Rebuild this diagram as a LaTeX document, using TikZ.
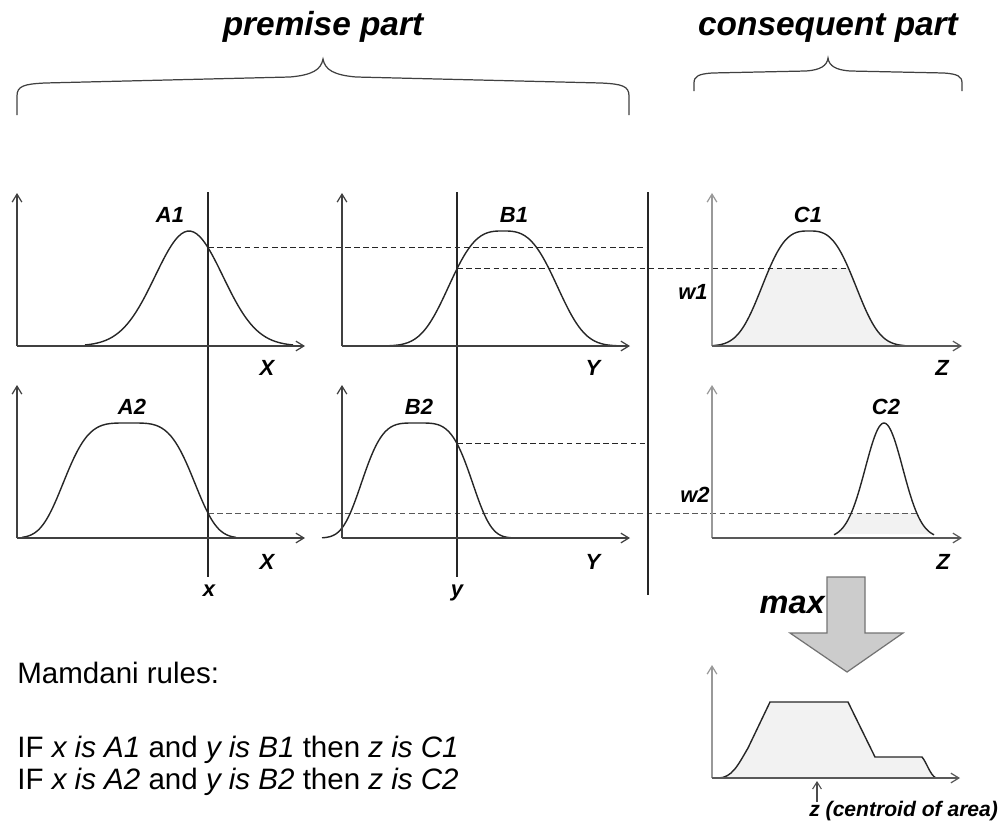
\documentclass[tikz,border=0pt]{standalone}
\usepackage{fontspec}
\setmainfont{Liberation Sans}
\usetikzlibrary{arrows.meta}

\tikzset{
  axis/.style={line width=0.7pt,draw=black!75,-{Straight Barb[length=4.5pt,width=5.5pt]}},
  mf/.style={line width=0.8pt,draw=black!85,smooth,samples=70},
  cut/.style={line width=0.7pt,draw=black!85},
  level/.style={dash pattern=on 3.2pt off 2pt,line width=0.65pt,draw=black!85},
  lab/.style={font=\fontsize{12.5}{15}\selectfont\bfseries\itshape,inner sep=0pt},
  part/.style={font=\fontsize{19}{23}\selectfont\bfseries\itshape,inner sep=0pt,anchor=base},
  rule/.style={font=\fontsize{16.8}{20}\selectfont,anchor=base west,inner sep=0pt},
  brace/.style={line width=0.7pt,draw=black!75},
  area/.style={fill=black!5},
}

\begin{document}
\begin{tikzpicture}[x=0.02cm,y=-0.02cm]
  \useasboundingbox (0,0) rectangle (1003,832);

  \node[part] (prem) at (323,35) {premise part};
  \node[part] (cons) at (828,35) {consequent part};
  \draw[brace] (17,115) -- (17,96) .. controls (17,86) and (24,84) .. (45,83) -- (290,77)
    .. controls (312,75) and (321,70) .. (323,59) .. controls (325,70) and (334,75) .. (356,77)
    -- (601,83) .. controls (622,84) and (629,86) .. (629,96) -- (629,115);
  \draw[brace] (694,91) -- (694,83) .. controls (694,76) and (699,74) .. (712,73) -- (806,71)
    .. controls (820,70) and (827,66) .. (828,58) .. controls (829,66) and (836,70) .. (850,71)
    -- (944,73) .. controls (957,74) and (962,76) .. (962,83) -- (962,91);

  \pgfmathsetmacro\aone{346-115*exp(-(abs(208-189)/48)^2)}
  \pgfmathsetmacro\wone{346-115*exp(-(abs(457-503)/62.5)^3)}
  \pgfmathsetmacro\btwo{538-115*exp(-(abs(457-417)/60)^4)}
  \pgfmathsetmacro\wtwo{538-115*exp(-(abs(208-129)/71)^4)}

  \begin{scope}
    \clip (712,\wone) rectangle (962,346);
    \fill[area] plot[smooth,samples=70,domain=715:903] (\x,{346-115*exp(-(abs(\x-809)/54)^3)}) -- cycle;
  \end{scope}
  \begin{scope}
    \clip (712,\wtwo) rectangle (962,538);
    \fill[area] plot[smooth,samples=70,domain=836:933] (\x,{538-115*exp(-(abs(\x-884)/26.5)^2)}) -- cycle;
  \end{scope}

  \coordinate (xtop) at (208,192);
  \coordinate (xbot) at (208,577);
  \coordinate (ytop) at (457,192);
  \coordinate (ybot) at (457,577);
  \coordinate (cuttop) at (648,192);
  \coordinate (cutbot) at (648,595);
  \coordinate (a1cut) at (208,\aone);
  \coordinate (b1cut) at (457,\wone);
  \coordinate (c1cut) at (849,\wone);
  \coordinate (b2cut) at (457,\btwo);
  \coordinate (a2cut) at (208,\wtwo);
  \coordinate (c2cut) at (917,\wtwo);

  \draw[level] (a1cut) -- (a1cut -| cuttop);
  \draw[level] (b1cut) -- (c1cut);
  \draw[level] (b2cut) -- (b2cut -| cuttop);
  \draw[level,draw=black!65] (a2cut) -- (c2cut);

  \draw[cut] (xtop) -- (xbot);
  \draw[cut] (ytop) -- (ybot);
  \draw[cut] (cuttop) -- (cutbot);

  \draw[mf] plot[domain=85:293] (\x,{346-115*exp(-(abs(\x-189)/48)^2)});
  \draw[mf] plot[domain=388:618] (\x,{346-115*exp(-(abs(\x-503)/62.5)^3)});
  \draw[mf] plot[domain=713:905] (\x,{346-115*exp(-(abs(\x-809)/54)^3)});
  \draw[mf] plot[domain=22:236] (\x,{538-115*exp(-(abs(\x-129)/71)^4)});
  \draw[mf] plot[domain=322:512] (\x,{538-115*exp(-(abs(\x-417)/60)^4)});
  \draw[mf] plot[domain=834:934] (\x,{538-115*exp(-(abs(\x-884)/26.5)^2)});

  \foreach \ox/\oy in {17/346,342/346,17/538,342/538}{
    \draw[axis] (\ox,\oy) -- (\ox,\oy-153);
    \draw[axis] (\ox,\oy) -- (\ox+288,\oy);
  }
  \foreach \oy in {346,538}{
    \draw[axis,draw=black!40] (712,\oy) -- (712,\oy-153);
    \draw[axis,draw=black!65] (712,\oy) -- (962,\oy);
  }

  \foreach \nm/\px/\py/\txt in {lA1/170/215/A1,lB1/514/215/B1,lC1/808/215/C1,
      lA2/132/407/A2,lB2/419/407/B2,lC2/886/407/C2,
      lX1/267/368/X,lY1/593/368/Y,lZ1/942/368/Z,
      lX2/267/562/X,lY2/593/562/Y,lZ2/943/562/Z,
      lw1/693/292/w1,lw2/695/495/w2}
    \node[lab] (\nm) at (\px,\py) {\txt};
  \node[lab,anchor=base] (lx) at (209,596) {x};
  \node[lab,anchor=base] (ly) at (457,596) {y};

  \draw[line width=0.7pt,draw=black!55,fill=black!20] (827,577) -- (865,577) -- (865,633) -- (903,633)
    -- (847,672) -- (790,633) -- (827,633) -- cycle;
  \node[font=\fontsize{18.5}{22}\selectfont\bfseries\itshape,anchor=base east,inner sep=0pt] (maxl) at (825,613) {max};

  \draw[line width=0.8pt,draw=black!85,area] (718,778) .. controls (732,778) and (738,765) .. (748,748)
    -- (770,702) -- (848,702) -- (875,757) -- (922,757) .. controls (927,763) and (930,775) .. (936,778);
  \draw[axis,draw=black!40] (712,778) -- (712,665);
  \draw[axis,draw=black!65] (712,778) -- (960,778);
  \node[lab,font=\fontsize{12}{14}\selectfont\bfseries\itshape,anchor=west] (zc) at (809,811) {z (centroid of area)};
  \coordinate (zfoot) at (817,802);
  \draw[-{Straight Barb[length=4pt,width=5pt]},line width=0.6pt,draw=black!70] (zfoot) -- (817,781);

  \node[rule] (head) at (17,683) {Mamdani rules:};
  \node[rule] (r1) at (17,757) {IF \textit{x is A1} and \textit{y is B1} then \textit{z is C1}};
  \node[rule] (r2) at (17,789) {IF \textit{x is A2} and \textit{y is B2} then \textit{z is C2}};
\end{tikzpicture}
\end{document}
